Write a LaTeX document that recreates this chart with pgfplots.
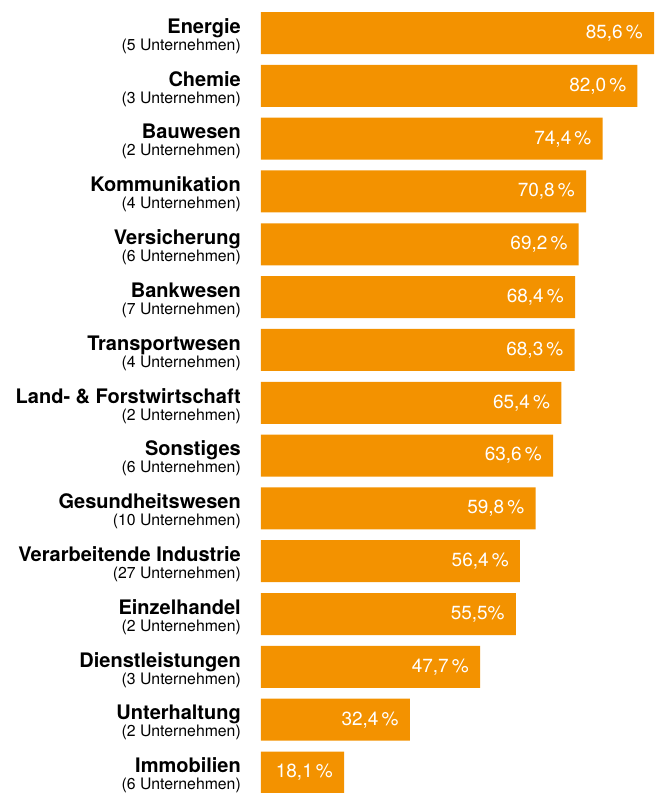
\documentclass[border=0pt]{standalone}
\usepackage{fontspec}
\setmainfont{TeX Gyre Heros}
\usepackage{pgfplots}
\pgfplotsset{compat=1.18}
\definecolor{barorange}{HTML}{F39200}
\newcommand{\lab}[2]{{\fontsize{20}{17}\selectfont\bfseries #1}\\(#2 Unternehmen)}
\begin{document}
\begin{tikzpicture}
\begin{axis}[
  at={(0pt,0pt)}, anchor=south west,
  scale only axis, width=396pt, height=793pt,
  xmin=0, xmax=86.25, ymin=-0.625, ymax=14.388,
  y dir=reverse,
  axis line style={draw=none}, tick style={draw=none},
  xtick=\empty,
  ytick={0,1,2,3,4,5,6,7,8,9,10,11,12,13,14},
  yticklabels={
    {\lab{Energie}{5}},
    {\lab{Chemie}{3}},
    {\lab{Bauwesen}{2}},
    {\lab{Kommunikation}{4}},
    {\lab{Versicherung}{6}},
    {\lab{Bankwesen}{7}},
    {\lab{Transportwesen}{4}},
    {\lab{Land- \& Forstwirtschaft}{2}},
    {\lab{Sonstiges}{6}},
    {\lab{Gesundheitswesen}{10}},
    {\lab{Verarbeitende Industrie}{27}},
    {\lab{Einzelhandel}{2}},
    {\lab{Dienstleistungen}{3}},
    {\lab{Unterhaltung}{2}},
    {\lab{Immobilien}{6}}},
  yticklabel style={font=\fontsize{15.8}{17}\selectfont, align=right, inner sep=0pt, xshift=-20pt, yshift=-3pt, text=black},
  point meta=explicit symbolic,
  nodes near coords={\pgfplotspointmeta},
  every node near coord/.append style={anchor=east, inner sep=0pt, xshift=-11pt, text=white, font=\fontsize{19}{19}\selectfont},
  clip=false,
]
\addplot[xbar, fill=barorange, draw=none, bar width=42pt] coordinates {
  (85.6,0) [85,6\,\%]
  (82.0,1) [82,0\,\%]
  (74.4,2) [74,4\,\%]
  (70.8,3) [70,8\,\%]
  (69.2,4) [69,2\,\%]
  (68.4,5) [68,4\,\%]
  (68.3,6) [68,3\,\%]
  (65.4,7) [65,4\,\%]
  (63.6,8) [63,6\,\%]
  (59.8,9) [59,8\,\%]
  (56.4,10) [56,4\,\%]
  (55.5,11) [55,5\%]
  (47.7,12) [47,7\,\%]
  (32.4,13) [32,4\,\%]
  (18.1,14) [18,1\,\%]
};
\end{axis}
\pgfresetboundingbox
\path[use as bounding box] (-261pt,0pt) rectangle (396pt,793pt);
\end{tikzpicture}
\end{document}
